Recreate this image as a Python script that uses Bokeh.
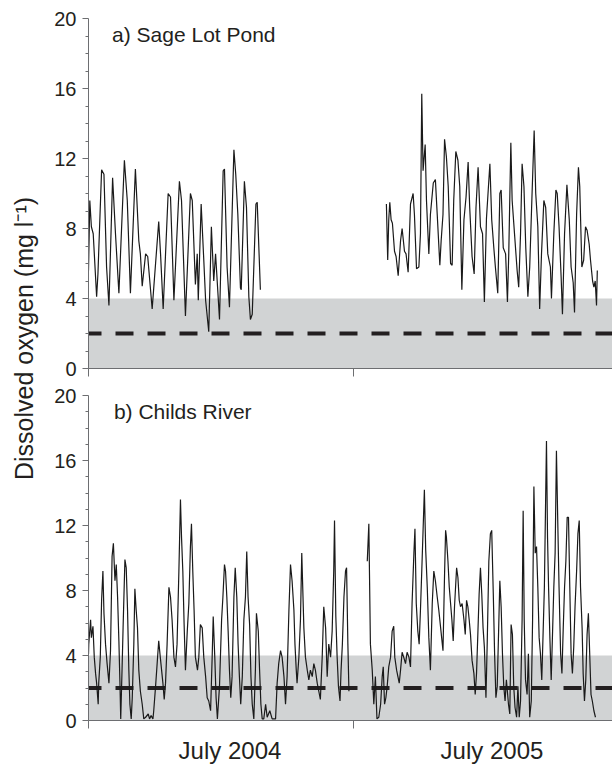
import math
from bokeh.plotting import figure
from bokeh.models import Range1d, FixedTicker, LinearAxis, Span, BoxAnnotation, Label
from bokeh.layouts import row, column
from bokeh.embed import file_html
from bokeh.resources import INLINE

# ---------------- data (days from start of record, DO in mg/l) ----------------
sage_2004_day = [0.0, 0.5, 1.1, 1.8, 3.1, 3.6, 5.0, 5.9, 6.9, 7.8, 9.2, 10.3, 11.6, 13.7, 14.8, 16.0,
                 17.9, 19.2, 19.8, 20.5, 21.8, 22.6, 24.3, 26.8, 27.5, 28.5, 30.4, 31.3, 32.6, 34.7,
                 35.5, 37.0, 38.9, 39.6, 40.8, 41.5, 41.9, 43.0, 44.0, 44.7, 45.9, 46.9, 47.8, 48.5,
                 50.0, 51.4, 51.9, 52.9, 53.8, 55.5, 56.2, 57.0, 58.0, 58.3, 59.5, 60.3, 61.2, 61.8,
                 62.5, 63.9, 64.4, 65.6]
sage_2004_do = [5.6, 9.6, 8.1, 7.7, 4.1, 5.4, 11.35, 11.1, 5.8, 3.6, 10.9, 7.7, 4.3, 11.9, 9.6, 4.3,
                11.4, 7.3, 6.55, 4.7, 6.55, 6.4, 3.4, 8.4, 6.55, 3.4, 10.0, 9.8, 3.9, 10.7,
                9.6, 3.0, 10.0, 9.6, 4.8, 6.55, 3.9, 9.4, 6.2, 3.9, 2.1, 8.1, 5.0, 6.55,
                2.8, 11.3, 11.4, 5.8, 3.5, 12.5, 11.1, 8.8, 4.6, 4.5, 10.7, 9.2, 4.1, 2.8,
                3.1, 9.4, 9.5, 4.5]

sage_2005_day = [113.7, 114.2, 114.6, 115.0, 115.5, 116.0, 116.8, 117.4, 118.2, 119.1,
                 119.7, 120.6, 121.2, 122.0, 122.9, 123.9, 124.4, 125.2, 126.1, 126.7,
                 127.2, 127.7, 128.5, 129.0, 129.9, 130.5, 131.6, 132.4, 133.1, 134.1,
                 134.6, 135.3, 135.9, 136.6, 137.3, 138.2, 138.8, 139.4, 140.2, 141.0,
                 141.7, 142.5, 143.3, 144.1, 144.9, 145.5, 146.4, 147.2, 147.9, 148.7,
                 149.6, 150.4, 151.1, 151.9, 153.2, 153.9, 154.7, 155.3, 156.2, 157.0,
                 157.5, 158.3, 159.2, 159.9, 160.4, 161.2, 161.7, 162.6, 163.6, 164.2,
                 164.9, 165.5, 166.2, 166.9, 167.7, 168.4, 169.3, 170.1, 170.7, 171.5,
                 172.2, 172.9, 173.8, 174.5, 175.3, 176.3, 176.7, 177.6, 178.4, 178.9,
                 179.6, 180.4, 180.9, 181.7, 182.6, 183.5, 184.2, 185.0, 185.5, 186.3,
                 187.0, 187.5, 188.3, 189.0, 189.7, 190.3, 191.1, 191.6, 192.4, 192.9,
                 193.4, 193.9, 194.2]
sage_2005_do = [9.4, 6.2, 8.5, 9.5, 8.5, 8.3, 6.7, 6.4, 5.3, 7.3,
                8.0, 6.7, 6.55, 5.5, 9.4, 10.0, 8.8, 5.7, 5.8, 7.7,
                15.7, 11.3, 12.8, 9.6, 6.55, 8.8, 10.6, 10.8, 8.8, 5.9,
                7.3, 8.8, 13.1, 12.1, 10.4, 6.0, 5.9, 9.6, 12.4, 11.9,
                10.4, 4.5, 8.5, 9.8, 11.8, 9.2, 6.4, 5.4, 9.2, 11.5,
                8.1, 7.7, 3.8, 8.6, 11.7, 8.5, 6.9, 5.8, 4.3, 10.0,
                10.2, 6.9, 6.55, 3.8, 6.55, 12.9, 9.6, 7.7, 5.6, 4.65,
                7.7, 11.7, 10.4, 6.9, 4.1, 5.8, 10.0, 13.6, 10.0, 8.1,
                3.4, 6.55, 9.6, 9.2, 6.55, 5.8, 4.0, 7.7, 10.2, 10.0,
                8.1, 5.2, 3.1, 7.7, 10.5, 8.5, 5.8, 4.9, 3.2, 8.8,
                11.5, 10.4, 5.8, 6.2, 8.1, 7.9, 7.1, 6.2, 5.0, 4.65,
                5.0, 3.6, 5.6]

childs_2004_day = [0.0, 0.1, 0.8, 1.1, 1.7, 2.2, 2.7, 3.1, 3.7, 3.9, 4.5,
                   5.0, 5.5, 5.9, 6.5, 7.1, 7.8, 8.4, 9.0, 9.5, 10.1,
                   10.6, 11.1, 11.6, 12.0, 12.3, 12.8, 13.2, 13.9, 14.4, 14.9,
                   15.4, 15.8, 16.3, 16.7, 17.3, 17.7, 18.2, 18.7, 19.2, 19.8,
                   20.5, 21.1, 21.8, 22.8, 23.3, 23.9, 24.6, 24.9, 25.6, 26.2,
                   26.8, 27.4, 27.9, 28.4, 28.9, 29.4, 30.0, 30.7, 31.3, 31.9,
                   32.6, 33.2, 33.8, 34.5, 35.1, 35.5, 36.0, 36.5, 37.0, 37.7,
                   38.3, 38.9, 39.3, 39.8, 40.3, 40.8, 41.6, 42.1, 42.7, 43.4,
                   44.0, 44.7, 45.3, 45.9, 46.6, 47.2, 47.6, 48.2, 48.7, 49.2,
                   50.0, 50.8, 51.3, 51.9, 52.3, 52.8, 53.3, 53.8, 54.3, 54.8,
                   55.5, 56.0, 56.6, 57.1, 57.6, 58.1, 58.7, 59.3, 59.9, 60.4,
                   60.9, 61.5, 62.0, 62.5, 63.1, 63.7, 64.1, 64.8, 65.3, 65.8,
                   66.3, 66.9,
                   67.6, 68.2, 69.2, 70.1, 71.4, 72.0, 72.6, 73.3, 73.9, 74.6,
                   75.2, 75.8, 76.5, 77.1, 77.7, 78.4, 78.8, 79.3, 79.6, 80.3,
                   80.9, 81.4, 81.8, 82.2, 82.8, 83.5, 84.1, 84.7, 85.4, 86.0,
                   86.6, 87.3, 87.9, 88.5, 89.2, 89.8, 90.5, 91.1, 91.7, 92.4,
                   93.0, 93.6, 93.9, 94.4, 94.9, 95.4, 96.0, 96.4, 96.9, 97.5,
                   98.1, 98.5, 99.0, 99.4]
childs_2004_do = [4.1, 4.7, 6.2, 5.1, 5.8, 3.9, 2.9, 2.3, 1.0, 2.3, 3.9,
                  7.4, 9.2, 6.6, 4.7, 3.5, 2.3, 4.3, 10.1, 10.9, 8.6,
                  9.6, 7.6, 4.9, 2.3, 0.1, 3.1, 5.7, 9.9, 9.4, 6.8,
                  3.1, 1.0, 0.1, 1.4, 4.7, 8.1, 6.8, 5.7, 3.1, 1.8,
                  1.0, 0.1, 0.2, 0.4, 0.1, 0.3, 0.1, 0.6, 2.1, 3.5,
                  4.9, 3.9, 3.1, 2.3, 1.3, 2.3, 4.7, 8.2, 7.6, 6.2,
                  3.9, 3.3, 4.7, 9.2, 13.6, 11.3, 9.2, 5.9, 3.1, 5.5,
                  7.2, 10.7, 12.1, 9.2, 6.8, 3.9, 3.1, 3.9, 5.9, 5.7,
                  3.9, 2.7, 1.4, 1.2, 0.6, 3.9, 6.4, 3.9, 1.4, 0.1,
                  2.1, 6.2, 7.6, 9.6, 9.2, 7.6, 5.5, 3.1, 1.4, 2.7,
                  7.6, 9.4, 7.6, 4.7, 2.7, 1.0, 2.7, 6.2, 7.6, 10.4,
                  7.6, 5.9, 2.7, 1.0, 0.1, 3.1, 6.6, 5.5, 3.1, 1.0,
                  0.1, 0.1,
                  1.0, 0.2, 0.6, 0.1, 0.1, 2.3, 3.5, 4.3, 3.9, 2.7,
                  1.0, 2.7, 6.8, 9.6, 8.6, 6.8, 4.7, 3.1, 2.3, 3.9,
                  6.2, 10.3, 8.0, 5.7, 3.9, 3.1, 2.5, 3.1, 2.7, 3.5,
                  3.1, 2.3, 1.8, 1.3, 3.9, 7.0, 5.7, 2.7, 4.7, 3.9,
                  5.5, 9.2, 12.3, 6.4, 3.9, 2.1, 1.2, 3.1, 4.7, 7.6,
                  9.2, 9.4, 4.7, 1.8]

childs_2005_day = [106.4, 107.0, 107.6, 108.3, 108.9, 109.5, 110.1, 110.8, 111.5, 112.1,
                   112.5, 113.0, 113.5, 114.0, 114.6, 115.3, 115.9, 116.5, 116.9, 117.6,
                   118.1, 118.6, 119.1, 119.7, 120.3, 121.0, 121.6, 122.3, 122.9, 123.5,
                   124.2, 124.6, 125.1, 125.7, 126.2, 126.7, 127.2, 127.7, 128.2, 128.7,
                   129.3, 129.9, 130.5, 131.2, 131.8, 132.4, 133.1, 133.7,
                   135.3, 135.9, 136.3, 136.6, 137.2, 137.7, 138.2, 138.7, 139.2, 139.7,
                   140.5, 141.0, 141.5, 142.0, 142.6, 143.3, 143.8, 144.3, 144.8, 145.3,
                   145.8, 146.4, 147.1, 147.6, 148.1, 148.6, 149.1, 149.6, 150.1, 150.6,
                   151.1, 151.7, 152.2, 152.8, 153.4, 153.9, 154.5, 155.0, 155.5, 156.0,
                   156.5, 157.0, 157.5, 158.0, 158.5, 159.0, 159.5, 160.3, 160.8, 161.3,
                   161.8, 162.3, 162.8, 163.4, 163.9, 164.4, 164.9, 165.5, 165.9, 166.3,
                   166.8, 167.4, 167.9, 168.4, 169.0, 169.5, 170.0, 170.5, 171.0, 171.5,
                   172.0, 172.5, 173.0, 173.5, 174.0, 174.4, 174.8, 175.2, 175.6, 176.1,
                   176.6, 177.1, 177.6, 178.1, 178.6, 179.1, 179.6, 180.2, 180.7, 181.2,
                   181.7, 182.2, 182.7, 183.2, 183.7, 184.2, 184.7, 185.2, 185.7, 186.3,
                   186.8, 187.3, 187.8, 188.4, 188.8, 189.3, 189.8, 190.3, 190.8, 191.3,
                   191.8, 192.3, 192.9, 193.5]
childs_2005_do = [9.8, 12.1, 4.7, 3.1, 1.0, 2.7, 0.1, 0.2, 1.0, 2.7,
                  3.3, 1.0, 1.4, 2.1, 3.3, 3.9, 5.5, 5.8, 3.9, 3.1,
                  2.7, 2.3, 3.1, 4.2, 3.9, 3.5, 4.2, 3.9, 3.3, 7.2,
                  10.3, 11.8, 7.2, 5.5, 4.7, 6.8, 9.2, 11.7, 14.2, 10.5,
                  8.2, 5.1, 3.1, 7.2, 9.2, 8.6, 7.6, 6.8,
                  4.3, 9.0, 11.7, 11.3, 9.8, 8.2, 7.2, 6.2, 4.9, 7.0,
                  9.4, 8.8, 7.4, 7.0, 7.2, 6.2, 5.3, 7.4, 7.0, 6.2,
                  5.3, 3.7, 2.9, 1.6, 2.9, 5.3, 7.8, 9.4, 7.8, 5.7,
                  4.5, 1.4, 4.9, 9.8, 11.5, 11.7, 7.8, 4.1, 1.4, 2.1,
                  5.3, 8.6, 7.0, 4.1, 2.1, 1.2, 2.5, 1.0, 0.4, 5.9,
                  5.3, 2.1, 0.8, 0.2, 2.1, 0.2, 1.2, 6.2, 12.9, 6.2,
                  2.5, 1.6, 4.1, 0.2, 1.2, 6.2, 14.4, 10.3, 10.7, 8.2,
                  5.1, 4.1, 2.5, 5.3, 8.2, 12.7, 17.2, 11.3, 8.2, 5.1,
                  2.5, 5.3, 8.2, 10.3, 16.6, 12.3, 8.2, 4.1, 2.9, 5.7,
                  8.2, 9.8, 12.5, 12.5, 8.2, 4.1, 2.9, 4.5, 7.0, 9.2,
                  11.5, 12.3, 8.2, 5.7, 2.9, 1.2, 2.5, 5.3, 6.6, 4.1,
                  1.6, 1.2, 0.6, 0.2]

y_ticks = [0, 4, 8, 12, 16, 20]
x_divider_ticks = [0, 101]
x_label_positions = [54, 154]
x_labels = ["July 2004", "July 2005"]
hypoxia_level = 2
stress_level = 4
panel_titles = ["a) Sage Lot Pond", "b) Childs River"]

# ---------------- styling ----------------
FONT = "Liberation Sans"
TEXT = "#231f20"
AXIS = "#6d6e71"
BAND = "#d1d3d4"
LINE = "#1a1a1a"

x_range = Range1d(0, 200)
y_minor = [v for v in range(y_ticks[0], y_ticks[-1] + 1) if v not in y_ticks]


def make_panel(height, b_top, b_bottom, title, title_x, title_y, segments):
    p = figure(width=568, height=height, x_range=x_range, y_range=Range1d(0, 20),
               output_backend="svg", toolbar_location=None,
               min_border_left=44, min_border_right=0,
               min_border_top=b_top, min_border_bottom=b_bottom)
    p.outline_line_color = None
    p.grid.visible = False
    p.background_fill_color = "white"

    p.add_layout(BoxAnnotation(bottom=0, top=stress_level, fill_color=BAND, fill_alpha=1.0,
                               line_color=None, level="underlay"))
    p.add_layout(Span(location=hypoxia_level, dimension="width", line_color=TEXT,
                      line_width=4, line_dash="18 14", line_dash_offset=5, level="underlay"))
    for xs, ys in segments:
        p.line(xs, ys, line_color=LINE, line_width=1.2)

    ya = p.yaxis[0]
    ya.ticker = FixedTicker(ticks=y_ticks, minor_ticks=y_minor)
    ya.axis_line_color = AXIS
    ya.major_tick_line_color = AXIS
    ya.minor_tick_line_color = AXIS
    ya.major_tick_out = 6
    ya.major_tick_in = 0
    ya.minor_tick_out = 3
    ya.minor_tick_in = 0
    ya.major_label_standoff = 6
    ya.major_label_text_font = FONT
    ya.major_label_text_font_size = "20px"
    ya.major_label_text_color = TEXT

    xa = p.xaxis[0]
    xa.ticker = FixedTicker(ticks=x_divider_ticks)
    xa.major_label_overrides = {t: "" for t in x_divider_ticks}
    xa.major_label_text_font_size = "1px"
    xa.major_label_standoff = 0
    xa.axis_line_color = AXIS
    xa.major_tick_line_color = AXIS
    xa.major_tick_out = 8
    xa.major_tick_in = 0
    xa.minor_tick_line_color = None

    p.add_layout(Label(x=title_x, y=title_y, text=title, text_font=FONT,
                       text_font_size="21px", text_color=TEXT,
                       text_align="left", text_baseline="middle"))
    return p


top = make_panel(380, 18, 12, panel_titles[0], 9.0, 19.1,
                 [(sage_2004_day, sage_2004_do), (sage_2005_day, sage_2005_do)])
bottom = make_panel(386, 15, 46, panel_titles[1], 9.7, 19.0,
                    [(childs_2004_day, childs_2004_do), (childs_2005_day, childs_2005_do)])

month_axis = LinearAxis(ticker=FixedTicker(ticks=x_label_positions),
                        major_label_overrides=dict(zip(x_label_positions, x_labels)))
month_axis.axis_line_color = None
month_axis.major_tick_line_color = None
month_axis.minor_tick_line_color = None
month_axis.major_tick_out = 0
month_axis.major_tick_in = 0
month_axis.major_label_standoff = 8
month_axis.major_label_text_font = FONT
month_axis.major_label_text_font_size = "24px"
month_axis.major_label_text_color = TEXT
bottom.add_layout(month_axis, "below")

# narrow figure holding the shared y-axis title
ylab = figure(width=44, height=766, x_range=Range1d(0, 44), y_range=Range1d(0, 766),
              output_backend="svg", toolbar_location=None, min_border=0,
              x_axis_location=None, y_axis_location=None)
ylab.outline_line_color = None
ylab.grid.visible = False
ylab.add_layout(Label(x=23.5, y=428, text="Dissolved oxygen (mg l\u207b\u00b9)", angle=math.pi / 2,
                      text_font=FONT, text_font_size="25px", text_color=TEXT,
                      text_align="center", text_baseline="middle"))

layout = row(ylab, column(top, bottom))

open("out.html", "w").write(file_html(layout, INLINE))
